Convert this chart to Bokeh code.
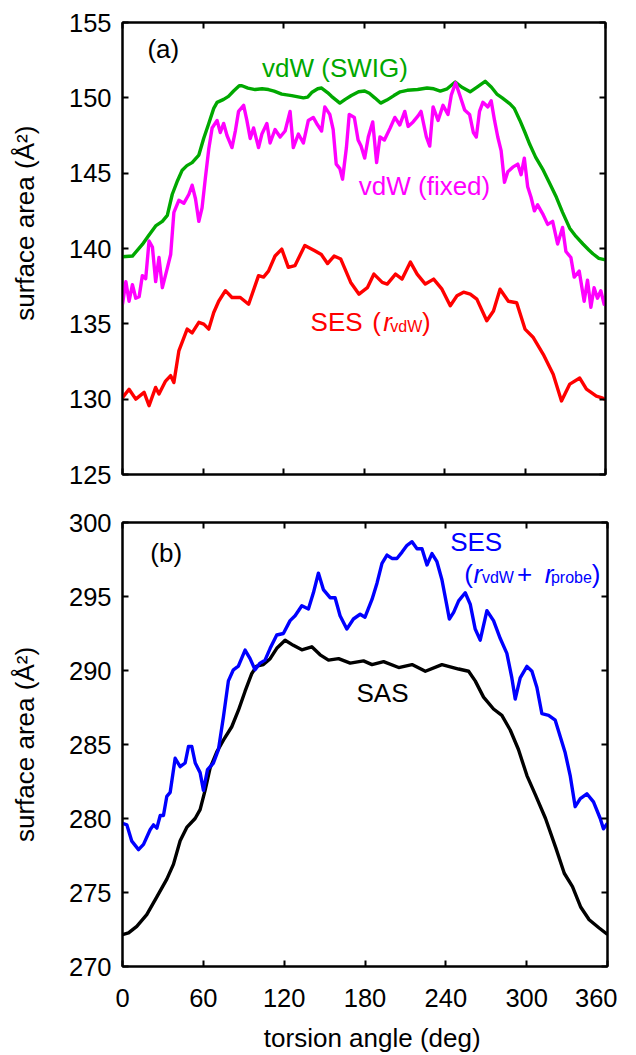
import math
from bokeh.plotting import figure
from bokeh.models import Range1d, FixedTicker, LinearAxis, Label
from bokeh.layouts import column
from bokeh.embed import file_html
from bokeh.resources import INLINE

FONT = "Liberation Sans"

# ---------------- data ----------------
x_ticks = [0, 60, 120, 180, 240, 300, 360]
a_yticks = [125, 130, 135, 140, 145, 150, 155]
b_yticks = [270, 275, 280, 285, 290, 295, 300]

# panel (a): vdW (SWIG)
swig_deg = [0, 7.4, 14.8, 19, 24.7, 29.7, 33.4, 37.1, 41, 44.5, 48, 51.9, 56.9, 60.5, 64.3, 68, 70.5,
            75.4, 79, 82.8, 87, 89, 93.5, 98.9, 104, 108.8, 113, 118.7, 126.1, 134.8, 138, 141, 145.5,
            148.4, 152.8, 155.8, 162, 166, 170.6, 176, 180.5, 184, 188, 192.4, 197, 202.3, 207, 212.2,
            220, 227, 232, 236.9, 242, 248, 253, 259.1, 264, 270.3, 275, 279, 283, 288.8, 292, 296.2,
            300, 303.6, 308, 313.6, 318, 323.4, 328, 333.3, 338, 343.2, 347.6, 350.6, 355, 360]
swig_area = [139.45, 139.5, 140.27, 140.8, 141.5, 141.8, 142.2, 143.6, 144.5, 145.2, 145.5, 145.7, 146.2,
             147.3, 148.3, 149.3, 149.7, 149.9, 150.1, 150.45, 150.8, 150.8, 150.65, 150.55, 150.6, 150.55,
             150.45, 150.25, 150.15, 150.0, 150.05, 150.35, 150.6, 150.65, 150.35, 150.1, 149.65, 149.9,
             150.15, 150.4, 150.45, 150.3, 150.0, 149.65, 149.85, 150.15, 150.4, 150.5, 150.55, 150.65,
             150.6, 150.45, 150.6, 151.05, 150.7, 150.4, 150.7, 151.1, 150.7, 150.25, 150.0, 149.6, 149.3,
             148.5, 147.7, 146.9, 146.05, 145.2, 144.4, 143.4, 142.4, 141.35, 140.8, 140.3, 139.9, 139.65,
             139.35, 139.25]

# panel (a): vdW (fixed)
fixed_deg = [0, 2.5, 4.9, 7.4, 9.9, 12.4, 14.8, 17.3, 19.8, 22.3, 24.7, 27.2, 29.7, 33.4, 35.9, 38.3, 42,
             45.7, 49.5, 51.9, 54.4, 56.9, 59.3, 61.8, 64.3, 66.8, 70.5, 72.9, 75.4, 77.9, 81.6, 84.1, 86.5,
             90.3, 92.7, 95.2, 97.7, 101.4, 103.9, 107.6, 110, 113.7, 117.5, 121.2, 124.9, 127.3, 131.1,
             134.8, 138.5, 142.2, 144.7, 148.4, 150.8, 154.5, 157, 159.3, 162, 164, 166.9, 169, 172.8,
             175.6, 177.8, 180.5, 183.2, 186.5, 189.4, 191.9, 195.2, 199.5, 203, 206.7, 210.4, 212.9,
             216.6, 220.3, 222.5, 226.5, 229, 231.5, 235.2, 238.9, 242.6, 245.1, 248.3, 251.3, 255, 258.7,
             261.5, 263.7, 266.1, 268.6, 272.3, 274.8, 277.3, 279.7, 282.2, 284.7, 287.2, 290.9, 294.6,
             297.1, 299.5, 302, 304.5, 307, 309.4, 313.2, 316.9, 320.6, 324.3, 328, 330.5, 334.2, 336.7,
             340.4, 344.1, 346.6, 349.1, 351.5, 354, 356.5, 359, 360]
fixed_area = [136.3, 137.8, 136.5, 137.6, 136.7, 136.8, 138.2, 138.0, 140.5, 140.1, 137.8, 139.4, 137.4,
              138.7, 139.6, 142.4, 143.2, 143.0, 143.6, 144.2, 143.3, 141.8, 142.7, 144.7, 146.6, 148.0,
              148.5, 147.7, 148.3, 147.5, 146.7, 147.8, 149.1, 149.5, 148.5, 147.3, 148.0, 146.7, 147.6,
              148.3, 147.0, 147.9, 147.4, 147.8, 149.1, 146.7, 147.6, 147.0, 148.5, 148.7, 148.3, 147.8,
              149.4, 148.9, 147.9, 145.6, 145.3, 144.6, 146.7, 148.9, 148.7, 147.2, 146.8, 146.0, 147.4,
              148.4, 145.7, 147.4, 147.2, 148.0, 148.7, 148.2, 149.1, 148.1, 148.4, 148.8, 149.1, 147.4,
              146.8, 149.4, 148.5, 149.5, 148.9, 150.2, 151.0, 150.2, 149.2, 148.9, 147.7, 147.4, 149.1,
              149.7, 149.4, 149.8, 148.5, 147.4, 146.5, 144.4, 145.1, 145.4, 145.6, 144.9, 146.0, 144.1,
              143.4, 142.5, 142.9, 142.3, 141.6, 141.8, 140.3, 141.4, 139.8, 139.4, 138.1, 138.5, 136.5,
              137.9, 136.1, 137.4, 136.7, 137.2, 136.3, 136.6]

# panel (a): SES (r_vdW)
sesvdw_deg = [0, 4.9, 9.9, 16.1, 19.8, 24.7, 27.2, 32.1, 35.9, 38.3, 42, 48.2, 51.9, 56.9, 60.6, 64.3, 68,
              71.7, 76.7, 81.6, 87.8, 94, 101.4, 105.1, 108.8, 113.7, 118.7, 123.6, 128.5, 135.9, 143.3,
              148.2, 152.8, 157.7, 162.7, 170.1, 176.3, 182.5, 187.4, 193.6, 197.3, 203.5, 208.4, 214.6,
              219.6, 225.7, 231.9, 238.1, 244.3, 249.3, 254.2, 259.2, 264.1, 271.5, 276.5, 281.4, 287.6,
              293.8, 300, 306.2, 313.6, 321, 327.2, 333.4, 340.8, 345.8, 353.2, 356.9, 360]
sesvdw_area = [130.1, 130.66, 130.0, 130.45, 129.57, 130.78, 130.34, 131.2, 131.56, 131.1, 133.2, 134.65,
               134.4, 135.1, 134.98, 134.65, 135.75, 136.5, 137.2, 136.75, 136.75, 136.3, 138.2, 138.1,
               138.5, 139.5, 139.96, 138.75, 138.86, 140.2, 139.85, 139.6, 139.0, 139.5, 139.3, 137.75,
               136.97, 137.4, 138.3, 137.75, 137.64, 138.3, 137.97, 139.1, 138.3, 137.64, 137.97, 137.3,
               136.2, 136.86, 137.1, 136.97, 136.64, 135.2, 135.85, 137.3, 136.5, 136.4, 134.65, 134.09,
               132.98, 131.65, 129.88, 131.0, 131.4, 130.66, 130.2, 130.1, 129.99]

# panel (b): SES (r_vdW + r_probe)
sesprobe_deg = [0, 3.2, 6.9, 11.9, 15.6, 20.5, 23, 25.5, 28, 30.4, 32.9, 35.4, 39.1, 42.8, 46.5, 49, 51.4,
                54, 57.6, 60.1, 63.1, 67.5, 71.2, 74.9, 78.6, 82.3, 86, 91, 94.7, 98.4, 102.1, 105.8,
                109.6, 114.5, 119.4, 124.4, 128.1, 133.1, 138, 141.7, 145.4, 149.1, 154.1, 157.8, 161.5,
                166.5, 171.4, 176.4, 180, 185.2, 188.9, 192.6, 196.3, 200, 203.7, 207.5, 211.2, 214.9,
                218.6, 222.3, 226, 229.7, 233.4, 237.1, 240.8, 242.6, 245.8, 249.5, 254.4, 258.1, 261.8,
                265.5, 270.5, 275.4, 280.4, 285.3, 289, 291.5, 295.2, 300.2, 303.9, 307.6, 311.3, 316.3,
                321.2, 324.9, 328.6, 332.3, 336, 339.8, 344.7, 349.6, 354.6, 357, 360]
sesprobe_area = [279.68, 279.57, 278.47, 277.9, 278.25, 279.24, 279.57, 279.35, 280.2, 280.2, 281.5,
                 281.77, 284.07, 283.5, 283.75, 284.87, 284.87, 283.75, 283.1, 281.9, 283.3, 283.75,
                 284.65, 286.86, 289.3, 290.05, 290.3, 291.38, 290.8, 290.05, 290.5, 290.7, 291.5, 292.4,
                 292.5, 293.37, 293.7, 294.37, 294.15, 295.25, 296.58, 295.47, 294.92, 294.92, 293.7,
                 292.8, 293.48, 293.8, 293.6, 294.8, 295.9, 297.24, 297.8, 297.57, 297.57, 298.0, 298.46,
                 298.7, 298.23, 298.23, 297.13, 297.9, 297.35, 296.13, 294.37, 293.48, 293.93, 294.7,
                 295.25, 294.48, 292.8, 292.05, 294.04, 293.37, 292.16, 291.16, 289.5, 288.07, 289.5,
                 290.28, 289.95, 288.85, 287.08, 286.97, 286.64, 285.54, 284.44, 282.9, 280.8, 281.34,
                 281.67, 281.12, 280.0, 279.3, 279.68]

# panel (b): SAS
sas_deg = [0, 4.5, 10.6, 18, 25.5, 32.9, 37.8, 42.8, 47.7, 53.9, 57.6, 61.3, 65, 70, 74.9, 81.1, 86, 91, 96,
           99.7, 104.6, 109.6, 114.5, 120.7, 126.8, 133.1, 140.5, 146.7, 152.9, 160.4, 169, 178.9, 185.2,
           193.8, 205, 214.9, 224.8, 237.1, 249.5, 256.9, 261.8, 268, 275.4, 281.6, 287.8, 293.9, 300.2,
           306.5, 314, 321.7, 327.9, 334, 340.2, 346.4, 353.8, 360]
sas_area = [272.16, 272.27, 272.71, 273.5, 274.7, 275.9, 276.9, 278.5, 279.4, 280.0, 280.6, 281.9, 283.4,
            284.5, 285.3, 286.2, 287.3, 288.6, 289.8, 290.3, 290.4, 290.8, 291.5, 292.04, 291.7, 291.4,
            291.6, 291.06, 290.7, 290.8, 290.5, 290.65, 290.4, 290.6, 290.2, 290.4, 289.95, 290.4, 290.1,
            289.95, 289.3, 288.2, 287.4, 286.97, 285.98, 284.66, 282.9, 281.6, 280.0, 278.0, 276.3, 275.4,
            274.0, 273.16, 272.6, 272.16]

y_title = "surface area (Å²)"
x_title = "torsion angle (deg)"

GREEN = "#00a800"
MAGENTA = "#ff00ff"
RED = "#ff0000"
BLUE = "#0000ff"
BLACK = "#000000"
LW = 3.4
LABEL_LIFT = 9  # screen px


def add_axis(p, side, ticks, labelled, standoff, title=None, title_standoff=0):
    ax = LinearAxis(
        ticker=FixedTicker(ticks=ticks),
        axis_line_color=BLACK, axis_line_width=2,
        major_tick_in=6, major_tick_out=0,
        major_tick_line_color=BLACK, major_tick_line_width=2,
        minor_tick_line_color=None,
        major_label_text_font=FONT,
        major_label_text_font_size="25.5px" if labelled else "1px",
        major_label_text_color=BLACK if labelled else None,
        major_label_standoff=standoff,
    )
    if title is not None:
        ax.axis_label = title
        ax.axis_label_text_font = FONT
        ax.axis_label_text_font_size = "26px"
        ax.axis_label_text_font_style = "normal"
        ax.axis_label_text_color = BLACK
        ax.axis_label_standoff = title_standoff
    p.add_layout(ax, side)


def make_fig(yr, yticks, width, height, mb_left, mb_top, mb_bottom, xlabels, ytitle, xtitle=None):
    p = figure(width=width, height=height, x_range=Range1d(0, 360), y_range=Range1d(*yr),
               output_backend="svg", toolbar_location=None,
               x_axis_location=None, y_axis_location=None,
               min_border_left=mb_left, min_border_right=10,
               min_border_top=mb_top, min_border_bottom=mb_bottom)
    p.outline_line_color = BLACK
    p.outline_line_width = 2
    p.background_fill_color = "white"
    p.border_fill_color = "white"
    p.xgrid.visible = False
    p.ygrid.visible = False
    add_axis(p, "left", yticks, True, 11, ytitle, 26)
    add_axis(p, "right", yticks, False, 0)
    add_axis(p, "above", x_ticks, False, 0)
    add_axis(p, "below", x_ticks, xlabels, 22, xtitle, 13)
    return p


def txt(p, x, y, text, color=BLACK, size="26px", align="left", style="normal"):
    p.add_layout(Label(x=x, y=y, text=text, text_color=color, text_font=FONT,
                       text_font_size=size, text_align=align, text_baseline="alphabetic",
                       text_font_style=style, y_offset=LABEL_LIFT))


# ---------------- panel (a) ----------------
# leading no-break spaces push the rotated title upward, as in the original
pa = make_fig((125, 155), a_yticks, 615, 498, 120, 22, 24, False, "\u00a0" * 7 + y_title)
pa.line(swig_deg, swig_area, line_color=GREEN, line_width=LW, line_join="round")
pa.line(fixed_deg, fixed_area, line_color=MAGENTA, line_width=LW, line_join="round")
pa.line(sesvdw_deg, sesvdw_area, line_color=RED, line_width=LW, line_join="round")

txt(pa, 30.4, 152.62, "(a)", align="center")
txt(pa, 158.4, 151.4, "vdW (SWIG)", color=GREEN, align="center")
txt(pa, 225.1, 143.54, "vdW (fixed)", color=MAGENTA, align="center")
txt(pa, 140.2, 134.53, "SES", color=RED)
txt(pa, 186.1, 134.53, "(", color=RED)
txt(pa, 194.4, 134.53, "r", color=RED, style="italic")
txt(pa, 199.6, 134.2, "vdW", color=RED, size="16px")
txt(pa, 223.3, 134.53, ")", color=RED)

# ---------------- panel (b) ----------------
pb = make_fig((270, 300), b_yticks, 617, 557, 122, 24, 80, True, y_title,
              "\u00a0\u00a0" + x_title)
pb.line(sas_deg, sas_area, line_color=BLACK, line_width=LW, line_join="round")
pb.line(sesprobe_deg, sesprobe_area, line_color=BLUE, line_width=LW, line_join="round")

txt(pb, 32.4, 297.3, "(b)", align="center")
txt(pb, 262.5, 298.09, "SES", color=BLUE, align="center")
txt(pb, 253.7, 295.94, "(", color=BLUE)
txt(pb, 260.6, 295.94, "r", color=BLUE, style="italic")
txt(pb, 266.8, 295.67, "vdW", color=BLUE, size="16px")
txt(pb, 292.8, 295.94, "+", color=BLUE)
txt(pb, 313.5, 295.94, "r", color=BLUE, style="italic")
txt(pb, 318.0, 295.67, "probe", color=BLUE, size="16px")
txt(pb, 348.4, 295.94, ")", color=BLUE)
txt(pb, 193.0, 287.85, "SAS", align="center")

layout = column(pa, pb)
open("out.html", "w").write(file_html(layout, INLINE))
